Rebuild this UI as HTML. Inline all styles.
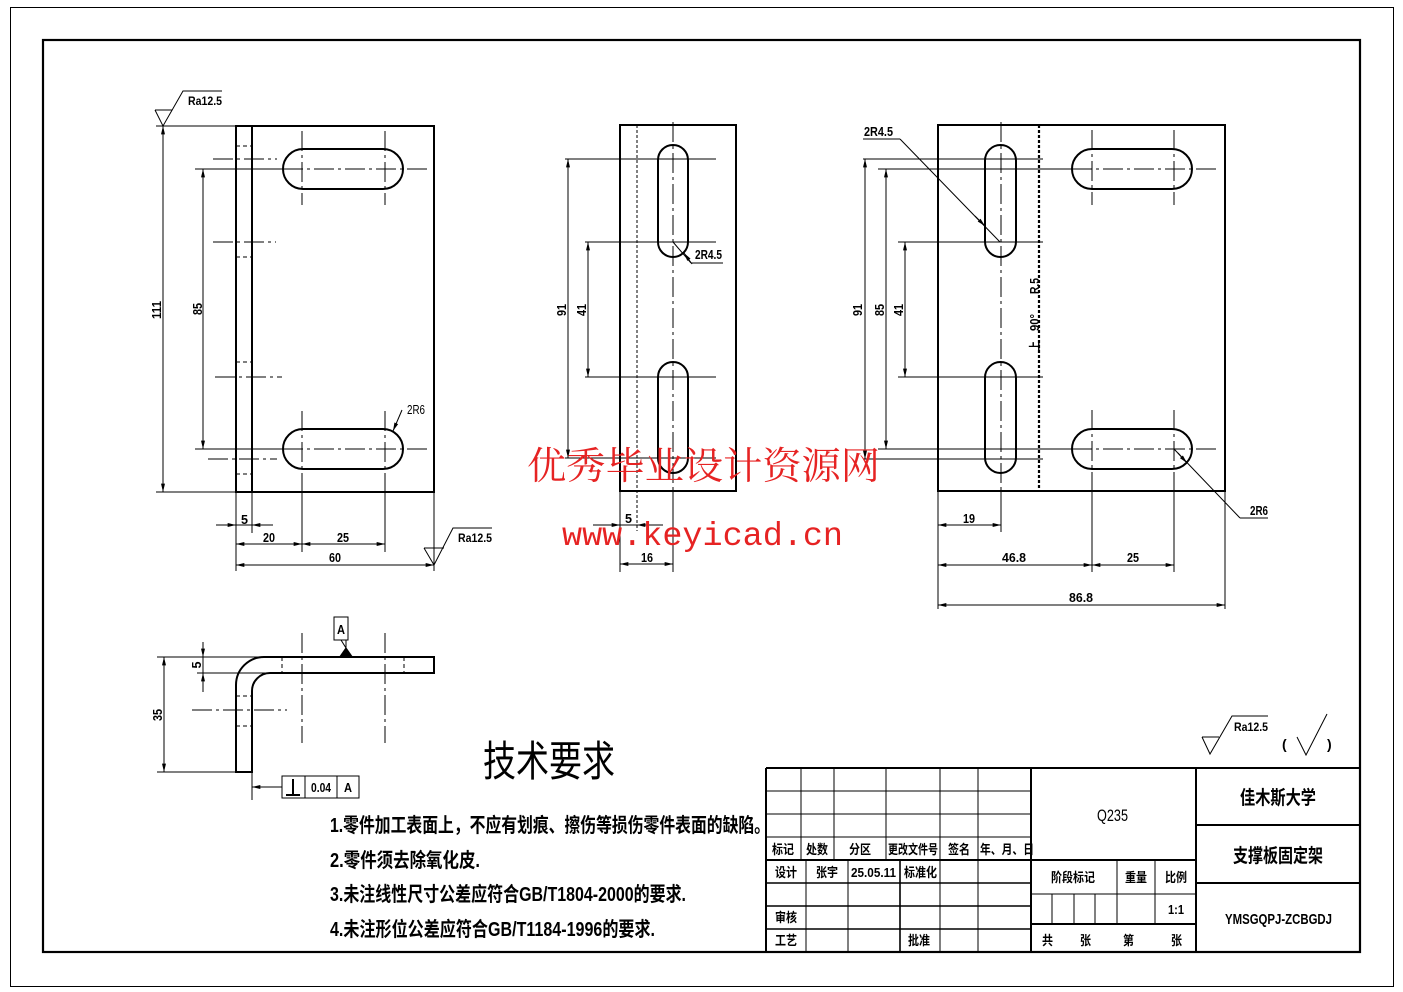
<!DOCTYPE html>
<html><head><meta charset="utf-8"><style>
html,body{margin:0;padding:0;background:#fff;}
svg{display:block;}
.o{stroke:#000;stroke-width:2;fill:none}
.t{stroke:#000;stroke-width:1;fill:none}
.t15{stroke:#000;stroke-width:1.6;fill:none}
.c{stroke:#000;stroke-width:1;fill:none;stroke-dasharray:20 4 3 4}
.h{stroke:#000;stroke-width:1;fill:none;stroke-dasharray:4 3}
.dm{stroke:#000;stroke-width:1;fill:none;marker-start:url(#ar);marker-end:url(#ar)}
.me{stroke:#000;stroke-width:1;fill:none;marker-end:url(#ar)}
text{fill:#000}
.d{font-family:"Liberation Sans",sans-serif;font-weight:bold;font-size:13px}
.cj{font-family:"Liberation Sans","Noto Sans CJK SC",sans-serif;font-weight:bold;font-size:13px}
.wm{fill:#e62323}
</style></head><body>
<svg width="1403" height="992" viewBox="0 0 1403 992" xmlns="http://www.w3.org/2000/svg">
<defs>
<marker id="ar" viewBox="0 0 10 6" refX="10" refY="3" markerWidth="9" markerHeight="5" markerUnits="userSpaceOnUse" orient="auto-start-reverse"><path d="M0,0.6 L10,3 L0,5.4z" fill="#000"/></marker>
</defs>
<rect x="0" y="0" width="1403" height="992" fill="#fff"/>
<!-- borders -->
<rect x="10.5" y="7.5" width="1383" height="979" class="t"/>
<rect x="43" y="40" width="1317" height="912" stroke="#000" stroke-width="2.2" fill="none"/>

<!-- ================= LEFT VIEW ================= -->
<rect x="236" y="126" width="198" height="366" class="o"/>
<line x1="252" y1="126" x2="252" y2="492" class="o"/>
<line x1="236" y1="146" x2="252" y2="146" class="h"/>
<line x1="236" y1="257" x2="252" y2="257" class="h"/>
<line x1="236" y1="362" x2="252" y2="362" class="h"/>
<line x1="236" y1="474" x2="252" y2="474" class="h"/>
<line x1="213" y1="159" x2="277" y2="159" class="c"/>
<line x1="213" y1="242" x2="276" y2="242" class="c"/>
<line x1="215" y1="377" x2="282" y2="377" class="c"/>
<line x1="208" y1="459" x2="277" y2="459" class="c"/>
<rect x="283" y="149" width="120" height="40" rx="20" class="o"/>
<rect x="283" y="429" width="120" height="40" rx="20" class="o"/>
<line x1="195" y1="169" x2="283" y2="169" class="t"/>
<line x1="283" y1="169" x2="427" y2="169" class="c"/>
<line x1="195" y1="449" x2="283" y2="449" class="t"/>
<line x1="283" y1="449" x2="427" y2="449" class="c"/>
<line x1="302" y1="131" x2="302" y2="205" class="c"/>
<line x1="385" y1="131" x2="385" y2="205" class="c"/>
<line x1="302" y1="411" x2="302" y2="492" class="c"/>
<line x1="385" y1="411" x2="385" y2="492" class="c"/>
<line x1="302" y1="492" x2="302" y2="552" class="t"/>
<line x1="385" y1="492" x2="385" y2="552" class="t"/>
<!-- dims -->
<line x1="156" y1="126" x2="236" y2="126" class="t"/>
<line x1="156" y1="492" x2="236" y2="492" class="t"/>
<line x1="163" y1="126" x2="163" y2="492" class="dm"/>
<line x1="203" y1="169" x2="203" y2="449" class="dm"/>
<line x1="236" y1="492" x2="236" y2="571" class="t"/>
<line x1="252" y1="492" x2="252" y2="533" class="t"/>
<line x1="434" y1="492" x2="434" y2="571" class="t"/>
<line x1="216" y1="525" x2="236" y2="525" class="me"/>
<line x1="273" y1="525" x2="252" y2="525" class="me"/>
<line x1="236" y1="525" x2="252" y2="525" class="t"/>
<line x1="236" y1="544" x2="302" y2="544" class="dm"/>
<line x1="302" y1="544" x2="385" y2="544" class="dm"/>
<line x1="236" y1="565" x2="434" y2="565" class="dm"/>
<text class="d" transform="translate(161,310) rotate(-90)" x="-9" y="0" textLength="18" lengthAdjust="spacingAndGlyphs">111</text>
<text class="d" transform="translate(202,309) rotate(-90)" x="-6" y="0" textLength="12" lengthAdjust="spacingAndGlyphs">85</text>
<text class="d" x="241" y="524" textLength="7" lengthAdjust="spacingAndGlyphs">5</text>
<text class="d" x="263" y="542" textLength="12" lengthAdjust="spacingAndGlyphs">20</text>
<text class="d" x="337" y="542" textLength="12" lengthAdjust="spacingAndGlyphs">25</text>
<text class="d" x="329" y="562" textLength="12" lengthAdjust="spacingAndGlyphs">60</text>
<!-- 2R6 -->
<line x1="402" y1="410" x2="393" y2="431" class="me"/>
<text class="d" x="407" y="414" textLength="18" lengthAdjust="spacingAndGlyphs" style="font-weight:normal">2R6</text>
<!-- roughness -->
<path d="M155,110 L163,126 L183,91 L222,91 M155,110 L172,110" class="t"/>
<text class="d" x="188" y="105" textLength="34" lengthAdjust="spacingAndGlyphs" style="font-size:12px">Ra12.5</text>
<path d="M424,548 L434,565 L453,528 L492,528 M424,548 L444,548" class="t"/>
<text class="d" x="458" y="542" textLength="34" lengthAdjust="spacingAndGlyphs" style="font-size:12px">Ra12.5</text>

<!-- ================= MIDDLE VIEW ================= -->
<rect x="620" y="125" width="116" height="366" class="o"/>
<line x1="637" y1="125" x2="637" y2="531" class="h" style="stroke-dasharray:3 2"/>
<line x1="673" y1="122" x2="673" y2="491" class="c"/>
<line x1="673" y1="491" x2="673" y2="572" class="t"/>
<rect x="658" y="145" width="30" height="112" rx="15" class="o"/>
<rect x="658" y="362" width="30" height="111" rx="15" class="o"/>
<line x1="565" y1="159" x2="716" y2="159" class="t"/>
<line x1="585" y1="242" x2="716" y2="242" class="t"/>
<line x1="585" y1="377" x2="716" y2="377" class="t"/>
<line x1="565" y1="458" x2="716" y2="458" class="t"/>
<line x1="568" y1="159" x2="568" y2="458" class="dm"/>
<line x1="588" y1="242" x2="588" y2="377" class="dm"/>
<text class="d" transform="translate(566,310) rotate(-90)" x="-6" y="0" textLength="12" lengthAdjust="spacingAndGlyphs">91</text>
<text class="d" transform="translate(586,310) rotate(-90)" x="-6" y="0" textLength="12" lengthAdjust="spacingAndGlyphs">41</text>
<line x1="673" y1="242" x2="691" y2="263" class="t"/>
<line x1="691" y1="263" x2="723" y2="263" class="t"/>
<line x1="692" y1="264" x2="684" y2="253" class="me"/>
<text class="d" x="695" y="259" textLength="27" lengthAdjust="spacingAndGlyphs">2R4.5</text>
<line x1="620" y1="491" x2="620" y2="572" class="t"/>
<line x1="593" y1="525" x2="620" y2="525" class="me"/>
<line x1="663" y1="525" x2="637" y2="525" class="me"/>
<line x1="620" y1="525" x2="637" y2="525" class="t"/>
<line x1="620" y1="564" x2="673" y2="564" class="dm"/>
<text class="d" x="625" y="523" textLength="7" lengthAdjust="spacingAndGlyphs">5</text>
<text class="d" x="641" y="562" textLength="12" lengthAdjust="spacingAndGlyphs">16</text>

<!-- ================= RIGHT VIEW ================= -->
<rect x="938" y="125" width="287" height="366" class="o"/>
<line x1="1039" y1="125" x2="1039" y2="491" stroke="#000" stroke-width="2.2" stroke-dasharray="3 2"/>
<rect x="985" y="145" width="31" height="112" rx="15.5" class="o"/>
<rect x="985" y="362" width="31" height="111" rx="15.5" class="o"/>
<rect x="1072" y="149" width="120" height="40" rx="20" class="o"/>
<rect x="1072" y="429" width="120" height="40" rx="20" class="o"/>
<line x1="863" y1="159" x2="1043" y2="159" class="t"/>
<line x1="878" y1="169" x2="1072" y2="169" class="t"/>
<line x1="1072" y1="169" x2="1218" y2="169" class="c"/>
<line x1="898" y1="242" x2="1043" y2="242" class="t"/>
<line x1="898" y1="377" x2="1043" y2="377" class="t"/>
<line x1="878" y1="449" x2="1072" y2="449" class="t"/>
<line x1="1072" y1="449" x2="1218" y2="449" class="c"/>
<line x1="863" y1="459" x2="1043" y2="459" class="t"/>
<line x1="1001" y1="122" x2="1001" y2="491" class="c"/>
<line x1="1001" y1="491" x2="1001" y2="532" class="t"/>
<line x1="1092" y1="130" x2="1092" y2="205" class="c"/>
<line x1="1174" y1="130" x2="1174" y2="205" class="c"/>
<line x1="1092" y1="410" x2="1092" y2="491" class="c"/>
<line x1="1174" y1="410" x2="1174" y2="491" class="c"/>
<line x1="1092" y1="491" x2="1092" y2="572" class="t"/>
<line x1="1174" y1="491" x2="1174" y2="572" class="t"/>
<line x1="865" y1="159" x2="865" y2="459" class="dm"/>
<line x1="886" y1="169" x2="886" y2="449" class="dm"/>
<line x1="905" y1="242" x2="905" y2="377" class="dm"/>
<text class="d" transform="translate(862,310) rotate(-90)" x="-6" y="0" textLength="12" lengthAdjust="spacingAndGlyphs">91</text>
<text class="d" transform="translate(884,310) rotate(-90)" x="-6" y="0" textLength="12" lengthAdjust="spacingAndGlyphs">85</text>
<text class="d" transform="translate(903,310) rotate(-90)" x="-6" y="0" textLength="12" lengthAdjust="spacingAndGlyphs">41</text>
<line x1="938" y1="491" x2="938" y2="609" class="t"/>
<line x1="1225" y1="491" x2="1225" y2="609" class="t"/>
<line x1="938" y1="525" x2="1001" y2="525" class="dm"/>
<line x1="938" y1="565" x2="1092" y2="565" class="dm"/>
<line x1="1092" y1="565" x2="1174" y2="565" class="dm"/>
<line x1="938" y1="605" x2="1225" y2="605" class="dm"/>
<text class="d" x="963" y="523" textLength="12" lengthAdjust="spacingAndGlyphs">19</text>
<text class="d" x="1002" y="562" textLength="24" lengthAdjust="spacingAndGlyphs">46.8</text>
<text class="d" x="1127" y="562" textLength="12" lengthAdjust="spacingAndGlyphs">25</text>
<text class="d" x="1069" y="602" textLength="24" lengthAdjust="spacingAndGlyphs">86.8</text>
<!-- 2R4.5 leader -->
<line x1="863" y1="139" x2="900" y2="139" class="t"/>
<line x1="900" y1="139" x2="1000" y2="242" class="t"/>
<line x1="975" y1="216" x2="985" y2="226" class="me"/>
<text class="d" x="864" y="136" textLength="29" lengthAdjust="spacingAndGlyphs">2R4.5</text>
<!-- 2R6 leader -->
<line x1="1174" y1="449" x2="1240" y2="518" class="t"/>
<line x1="1240" y1="518" x2="1268" y2="518" class="t"/>
<line x1="1178" y1="453" x2="1187" y2="463" class="me"/>
<text class="d" x="1250" y="515" textLength="18" lengthAdjust="spacingAndGlyphs">2R6</text>
<!-- bend note -->
<text class="cj" transform="translate(1039,351) rotate(-90)" x="0" y="0" textLength="10" lengthAdjust="spacingAndGlyphs" style="font-size:12px">上</text>
<text class="d" transform="translate(1039,331) rotate(-90)" x="0" y="0" textLength="17" lengthAdjust="spacingAndGlyphs">90°</text>
<text class="d" transform="translate(1039,294) rotate(-90)" x="0" y="0" textLength="16" lengthAdjust="spacingAndGlyphs">R.5</text>

<!-- ================= SIDE VIEW ================= -->
<path d="M236,772 V685 A28,28 0 0 1 264,657 H434 V673 H270 A18,18 0 0 0 252,691 V772 Z" class="o"/>
<line x1="282" y1="657" x2="282" y2="673" class="h"/>
<line x1="404" y1="657" x2="404" y2="673" class="h"/>
<line x1="236" y1="696" x2="252" y2="696" class="h"/>
<line x1="236" y1="726" x2="252" y2="726" class="h"/>
<line x1="302" y1="633" x2="302" y2="743" class="c"/>
<line x1="385" y1="633" x2="385" y2="743" class="c"/>
<line x1="192" y1="710" x2="287" y2="710" class="c"/>
<line x1="157" y1="657" x2="264" y2="657" class="t"/>
<line x1="157" y1="772" x2="236" y2="772" class="t"/>
<line x1="197" y1="673" x2="268" y2="673" class="t"/>
<line x1="164" y1="657" x2="164" y2="772" class="dm"/>
<line x1="203" y1="642" x2="203" y2="657" class="me"/>
<line x1="203" y1="692" x2="203" y2="673" class="me"/>
<line x1="203" y1="657" x2="203" y2="673" class="t"/>
<text class="d" transform="translate(201,665) rotate(-90)" x="-3.5" y="0" textLength="7" lengthAdjust="spacingAndGlyphs">5</text>
<text class="d" transform="translate(162,715) rotate(-90)" x="-6" y="0" textLength="12" lengthAdjust="spacingAndGlyphs">35</text>
<!-- datum A -->
<rect x="334" y="617" width="14" height="23" class="t"/>
<text class="d" x="337" y="634" textLength="8" lengthAdjust="spacingAndGlyphs">A</text>
<line x1="341" y1="640" x2="346" y2="648" class="t"/>
<line x1="346" y1="640" x2="346" y2="649" class="t"/>
<polygon points="339,657 353,657 346,647" fill="#000"/>
<!-- perpendicularity frame -->
<line x1="252" y1="772" x2="252" y2="800" class="t"/>
<line x1="282" y1="787" x2="252" y2="787" class="me"/>
<rect x="282" y="776" width="77" height="22" class="t"/>
<line x1="305" y1="776" x2="305" y2="798" class="t"/>
<line x1="337" y1="776" x2="337" y2="798" class="t"/>
<line x1="293" y1="779" x2="293" y2="795" stroke="#000" stroke-width="2"/>
<line x1="286" y1="795" x2="300" y2="795" stroke="#000" stroke-width="2"/>
<text class="d" x="311" y="792" textLength="20" lengthAdjust="spacingAndGlyphs">0.04</text>
<text class="d" x="344" y="792" textLength="8" lengthAdjust="spacingAndGlyphs">A</text>

<!-- ================= TECH REQUIREMENTS ================= -->
<text x="483" y="776" textLength="132" lengthAdjust="spacingAndGlyphs" style="font-family:'Liberation Sans','Noto Sans CJK SC',sans-serif;font-size:42px;">技术要求</text>
<text class="cj" x="330" y="832" textLength="440" lengthAdjust="spacingAndGlyphs" style="font-size:20px">1.零件加工表面上，不应有划痕、擦伤等损伤零件表面的缺陷。</text>
<text class="cj" x="330" y="867" textLength="150" lengthAdjust="spacingAndGlyphs" style="font-size:20px">2.零件须去除氧化皮.</text>
<text class="cj" x="330" y="901" textLength="356" lengthAdjust="spacingAndGlyphs" style="font-size:20px">3.未注线性尺寸公差应符合GB/T1804-2000的要求.</text>
<text class="cj" x="330" y="936" textLength="325" lengthAdjust="spacingAndGlyphs" style="font-size:20px">4.未注形位公差应符合GB/T1184-1996的要求.</text>

<!-- top-right roughness -->
<path d="M1202,737 L1210,754 L1232,716 L1268,716 M1202,737 L1219,737" class="t"/>
<text class="d" x="1234" y="731" textLength="34" lengthAdjust="spacingAndGlyphs" style="font-size:12px">Ra12.5</text>
<text class="d" x="1282" y="749" style="font-size:14px">(</text>
<path d="M1297,737 L1306,755 L1327,714" class="t"/>
<text class="d" x="1327" y="749" style="font-size:14px">)</text>

<!-- ================= TITLE BLOCK ================= -->
<line x1="766" y1="768" x2="1360" y2="768" stroke="#000" stroke-width="2"/>
<line x1="766" y1="768" x2="766" y2="952" stroke="#000" stroke-width="2"/>
<line x1="1031" y1="768" x2="1031" y2="952" stroke="#000" stroke-width="2"/>
<line x1="1196" y1="768" x2="1196" y2="952" stroke="#000" stroke-width="2"/>
<!-- left section -->
<line x1="766" y1="791" x2="1031" y2="791" class="t"/>
<line x1="766" y1="814" x2="1031" y2="814" class="t"/>
<line x1="766" y1="837" x2="1031" y2="837" class="t"/>
<line x1="766" y1="860" x2="1031" y2="860" stroke="#000" stroke-width="2"/>
<line x1="766" y1="883" x2="1031" y2="883" class="t15"/>
<line x1="766" y1="906" x2="1031" y2="906" class="t15"/>
<line x1="766" y1="929" x2="1031" y2="929" class="t15"/>
<line x1="801" y1="768" x2="801" y2="860" class="t"/>
<line x1="834" y1="768" x2="834" y2="860" class="t"/>
<line x1="886" y1="768" x2="886" y2="860" class="t"/>
<line x1="806" y1="860" x2="806" y2="952" class="t"/>
<line x1="848" y1="860" x2="848" y2="952" class="t"/>
<line x1="900" y1="860" x2="900" y2="952" class="t15"/>
<line x1="940" y1="768" x2="940" y2="952" class="t"/>
<line x1="978" y1="768" x2="978" y2="952" class="t"/>
<!-- middle section -->
<line x1="1031" y1="860" x2="1196" y2="860" stroke="#000" stroke-width="2"/>
<line x1="1031" y1="894" x2="1196" y2="894" class="t"/>
<line x1="1031" y1="924" x2="1196" y2="924" stroke="#000" stroke-width="2"/>
<line x1="1117" y1="860" x2="1117" y2="924" class="t"/>
<line x1="1155" y1="860" x2="1155" y2="924" class="t"/>
<line x1="1052" y1="894" x2="1052" y2="924" class="t"/>
<line x1="1074" y1="894" x2="1074" y2="924" class="t"/>
<line x1="1095" y1="894" x2="1095" y2="924" class="t"/>
<!-- right section -->
<line x1="1196" y1="825" x2="1360" y2="825" stroke="#000" stroke-width="2"/>
<line x1="1196" y1="883" x2="1360" y2="883" stroke="#000" stroke-width="2"/>
<!-- title texts -->
<text class="cj" x="772" y="854" textLength="22" lengthAdjust="spacingAndGlyphs">标记</text>
<text class="cj" x="806" y="854" textLength="22" lengthAdjust="spacingAndGlyphs">处数</text>
<text class="cj" x="849" y="854" textLength="22" lengthAdjust="spacingAndGlyphs">分区</text>
<text class="cj" x="888" y="854" textLength="50" lengthAdjust="spacingAndGlyphs">更改文件号</text>
<text class="cj" x="948" y="854" textLength="22" lengthAdjust="spacingAndGlyphs">签名</text>
<text class="cj" x="980" y="854" textLength="54" lengthAdjust="spacingAndGlyphs">年、月、日</text>
<text class="cj" x="775" y="877" textLength="22" lengthAdjust="spacingAndGlyphs">设计</text>
<text class="cj" x="816" y="877" textLength="22" lengthAdjust="spacingAndGlyphs">张宇</text>
<text class="d" x="851" y="877" textLength="45" lengthAdjust="spacingAndGlyphs">25.05.11</text>
<text class="cj" x="904" y="877" textLength="33" lengthAdjust="spacingAndGlyphs">标准化</text>
<text class="cj" x="775" y="922" textLength="22" lengthAdjust="spacingAndGlyphs">审核</text>
<text class="cj" x="775" y="945" textLength="22" lengthAdjust="spacingAndGlyphs">工艺</text>
<text class="cj" x="908" y="945" textLength="22" lengthAdjust="spacingAndGlyphs">批准</text>
<text x="1097" y="821" textLength="31" lengthAdjust="spacingAndGlyphs" style="font-family:'Liberation Sans',sans-serif;font-size:17px">Q235</text>
<text class="cj" x="1051" y="882" textLength="44" lengthAdjust="spacingAndGlyphs">阶段标记</text>
<text class="cj" x="1125" y="882" textLength="22" lengthAdjust="spacingAndGlyphs">重量</text>
<text class="cj" x="1165" y="882" textLength="22" lengthAdjust="spacingAndGlyphs">比例</text>
<text class="d" x="1168" y="914" textLength="16" lengthAdjust="spacingAndGlyphs">1:1</text>
<text class="cj" x="1042" y="945" textLength="11" lengthAdjust="spacingAndGlyphs">共</text>
<text class="cj" x="1080" y="945" textLength="11" lengthAdjust="spacingAndGlyphs">张</text>
<text class="cj" x="1123" y="945" textLength="11" lengthAdjust="spacingAndGlyphs">第</text>
<text class="cj" x="1171" y="945" textLength="11" lengthAdjust="spacingAndGlyphs">张</text>
<text class="cj" x="1240" y="804" textLength="76" lengthAdjust="spacingAndGlyphs" style="font-size:19px">佳木斯大学</text>
<text class="cj" x="1233" y="862" textLength="90" lengthAdjust="spacingAndGlyphs" style="font-size:19px">支撑板固定架</text>
<text class="d" x="1225" y="924" textLength="107" lengthAdjust="spacingAndGlyphs" style="font-size:15px">YMSGQPJ-ZCBGDJ</text>

<!-- ================= WATERMARK ================= -->
<text class="wm" x="527" y="479" textLength="353" lengthAdjust="spacingAndGlyphs" style="font-family:'Liberation Serif','Noto Serif CJK SC',serif;font-size:38px">优秀毕业设计资源网</text>
<text class="wm" x="562" y="545" textLength="281" lengthAdjust="spacingAndGlyphs" style="font-family:'Liberation Mono',monospace;font-size:33px">www.keyicad.cn</text>
</svg>
</body></html>
